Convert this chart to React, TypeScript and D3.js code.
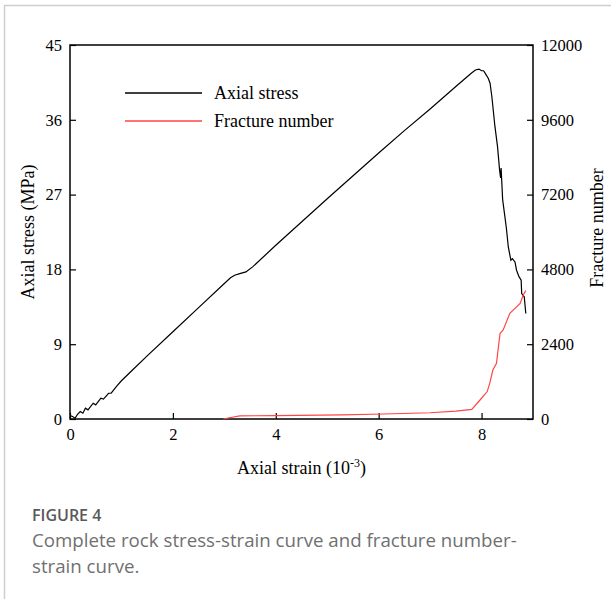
import React, { useEffect, useRef } from "react";
import * as d3 from "d3";

// ---- data ----
const strainTicks = [0, 2, 4, 6, 8];
const stressTicks = [0, 9, 18, 27, 36, 45];
const fractureTicks = [0, 2400, 4800, 7200, 9600, 12000];

const stressStrain = [0, 0.05, 0.1, 0.15, 0.2, 0.25, 0.3, 0.35, 0.45, 0.5, 0.6, 0.65, 0.75, 0.8, 0.9, 1.0, 1.2, 1.5, 2.0, 2.5, 3.0, 3.12, 3.2, 3.3, 3.42, 3.55, 4.0, 5.0, 6.0, 6.5, 7.0, 7.5, 7.8, 7.88, 7.95, 8.0, 8.04, 8.08, 8.13, 8.165, 8.2, 8.26, 8.31, 8.35, 8.37, 8.38, 8.41, 8.48, 8.52, 8.57, 8.6, 8.65, 8.68, 8.73, 8.77, 8.78, 8.83, 8.86];
const stressValues = [0.4, 0.3, 0.1, 0.6, 0.9, 0.7, 1.3, 1.1, 1.9, 1.7, 2.5, 2.4, 3.1, 3.1, 3.9, 4.6, 5.8, 7.6, 10.5, 13.4, 16.3, 17.0, 17.3, 17.5, 17.7, 18.3, 20.9, 26.5, 32.0, 34.7, 37.3, 40.0, 41.6, 42.0, 42.1, 41.9, 41.9, 41.5, 41.0, 40.4, 38.8, 35.2, 32.8, 30.0, 29.0, 30.2, 26.4, 23.1, 20.7, 19.1, 19.3, 18.9, 17.9, 17.1, 16.7, 15.1, 14.7, 12.7];

const fractureStrain = [2.98, 3.1, 3.3, 4.0, 5.3, 6.09, 7.0, 7.5, 7.81, 7.97, 8.11, 8.16, 8.22, 8.29, 8.36, 8.42, 8.55, 8.65, 8.75, 8.81, 8.86];
const fractureValues = [0, 40, 100, 110, 130, 160, 200, 250, 310, 610, 880, 1150, 1570, 1790, 2750, 2860, 3390, 3550, 3710, 3980, 4120];

const legendLabels = ["Axial stress", "Fracture number"];
const legendColors = ["#000000", "#ff4545"];

const W = 611;
const H = 599;
const M = { left: 70, right: 533, top: 45, bottom: 419 };
const SERIF = "Liberation Serif, Times New Roman, serif";
const SANS = "Open Sans, Noto Sans, sans-serif";

export default function App() {
  const ref = useRef<SVGSVGElement | null>(null);

  useEffect(() => {
    const svg = d3.select(ref.current);
    svg.selectAll("*").remove();

    // figure frame
    svg.append("line").attr("x1", 4.5).attr("x2", 4.5).attr("y1", 5).attr("y2", H)
      .attr("stroke", "#cfcfcf").attr("stroke-width", 1.5);
    svg.append("line").attr("x1", 4).attr("x2", W).attr("y1", 5.5).attr("y2", 5.5)
      .attr("stroke", "#cfcfcf").attr("stroke-width", 1.5);

    const x = d3.scaleLinear().domain([0, 9]).range([M.left, M.right]);
    const yL = d3.scaleLinear().domain([0, 45]).range([M.bottom, M.top]);
    const yR = d3.scaleLinear().domain([0, 12000]).range([M.bottom, M.top]);

    const styleAxis = (g: any) => {
      g.attr("font-family", SERIF).attr("font-size", 16);
      g.select(".domain").remove();
      g.selectAll("line").attr("stroke", "#000").attr("stroke-width", 1.2);
      g.selectAll("text").style("font-family", SERIF).style("font-size", "16.5px").attr("fill", "#000");
    };

    svg.append("g").attr("transform", `translate(0,${M.bottom})`)
      .call(d3.axisBottom(x).tickValues(strainTicks).tickSizeInner(-6).tickSizeOuter(0).tickPadding(9).tickFormat(d3.format("d")))
      .call(styleAxis);
    svg.append("g").attr("transform", `translate(${M.left},0)`)
      .call(d3.axisLeft(yL).tickValues(stressTicks).tickSizeInner(-6).tickSizeOuter(0).tickPadding(8).tickFormat(d3.format("d")))
      .call(styleAxis);
    svg.append("g").attr("transform", `translate(${M.right},0)`)
      .call(d3.axisRight(yR).tickValues(fractureTicks).tickSizeInner(-6).tickSizeOuter(0).tickPadding(8).tickFormat(d3.format("d")))
      .call(styleAxis);

    // frame box
    svg.append("rect").attr("x", M.left).attr("y", M.top)
      .attr("width", M.right - M.left).attr("height", M.bottom - M.top)
      .attr("fill", "none").attr("stroke", "#000").attr("stroke-width", 1.5);

    const stressLine = d3.line<number>()
      .x((_, i) => x(stressStrain[i]))
      .y((d) => yL(d));
    svg.append("path").attr("d", stressLine(stressValues) as string)
      .attr("fill", "none").attr("stroke", legendColors[0]).attr("stroke-width", 1.2);

    const fracLine = d3.line<number>()
      .x((_, i) => x(fractureStrain[i]))
      .y((d) => yR(d));
    svg.append("path").attr("d", fracLine(fractureValues) as string)
      .attr("fill", "none").attr("stroke", legendColors[1]).attr("stroke-width", 1.2);

    // legend
    legendLabels.forEach((lab, i) => {
      const yy = 93 + i * 28;
      svg.append("line").attr("x1", 125).attr("x2", 202).attr("y1", yy).attr("y2", yy)
        .attr("stroke", legendColors[i]).attr("stroke-width", 1.5);
      svg.append("text").attr("x", 214).attr("y", yy + 6).style("font-family", SERIF)
        .attr("font-size", 18).attr("fill", "#000").text(lab);
    });

    // axis titles
    const xt = svg.append("text").attr("x", (M.left + M.right) / 2).attr("y", 474)
      .attr("text-anchor", "middle").style("font-family", SERIF).attr("font-size", 18).attr("fill", "#000");
    xt.append("tspan").text("Axial strain (10");
    xt.append("tspan").attr("font-size", 12).attr("dy", -7).text("-3");
    xt.append("tspan").attr("dy", 7).text(")");

    svg.append("text").attr("transform", `translate(34,232) rotate(-90)`)
      .attr("text-anchor", "middle").style("font-family", SERIF).attr("font-size", 18).attr("fill", "#000")
      .text("Axial stress (MPa)");
    svg.append("text").attr("transform", `translate(603,228) rotate(-90)`)
      .attr("text-anchor", "middle").style("font-family", SERIF).attr("font-size", 18).attr("fill", "#000")
      .text("Fracture number");

    // caption
    svg.append("text").attr("x", 32).attr("y", 521).style("font-family", SANS)
      .attr("font-size", 16).attr("font-weight", 600).attr("fill", "#595959").text("FIGURE 4");
    svg.append("text").attr("x", 32).attr("y", 547).style("font-family", SANS)
      .attr("font-size", 18.7).attr("fill", "#707070")
      .text("Complete rock stress-strain curve and fracture number-");
    svg.append("text").attr("x", 32).attr("y", 573).style("font-family", SANS)
      .attr("font-size", 18.7).attr("fill", "#707070").text("strain curve.");
  }, []);

  return (
    <svg ref={ref} width={W} height={H}
      style={{ position: "absolute", left: 0, top: 0, background: "#fff" }} />
  );
}
